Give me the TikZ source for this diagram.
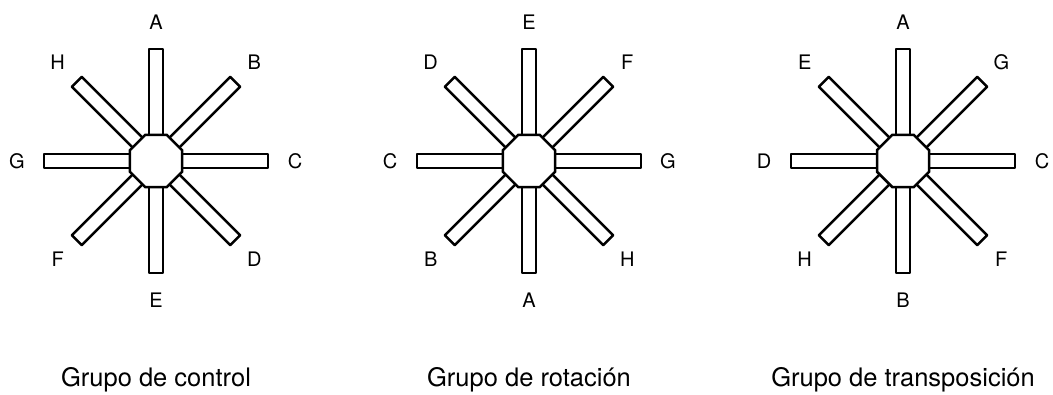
\documentclass[tikz,border=0pt]{standalone}
\usepackage{fontspec}
\setmainfont{TeX Gyre Heros}
\usetikzlibrary{shapes.geometric}

\def\RosaArmLen{112}
\def\RosaArmHalf{7}
\def\RosaArmStart{20}
\def\RosaHubSize{56.3pt}
\def\RosaLabelDist{139}
\def\RosaCenterY{-161}
\def\RosaCaptionY{-387}
\tikzset{
  rosaarm/.style={draw, line width=2.5pt, fill=white, line join=round},
  rosahub/.style={regular polygon, regular polygon sides=8,
    draw, line width=2.5pt, fill=white,
    minimum size=\RosaHubSize, inner sep=0pt},
  rosalabel/.style={font=\fontsize{20}{20}\selectfont, inner sep=0pt},
  rosacaption/.style={font=\fontsize{25.5}{25.5}\selectfont, inner sep=0pt,
    anchor=base},
}
% #1 name, #2 centre x, #3 labels clockwise from the top, #4 caption
\newcommand{\RosaStar}[4]{%
  \coordinate (#1-c) at (#2,\RosaCenterY);
  \foreach \ang in {0,45,...,315}
    \draw[rosaarm, shift={(#1-c)}, rotate=\ang]
      (\RosaArmStart,-\RosaArmHalf) rectangle (\RosaArmLen,\RosaArmHalf);
  \node[rosahub] (#1-hub) at (#1-c) {};
  \foreach \lab [count=\i from 0] in {#3}
    \node[rosalabel] (#1-\lab) at ($(#1-c)+({90-45*\i}:\RosaLabelDist)$) {\lab};
  \node[rosacaption] (#1-caption) at (#2,\RosaCaptionY) {#4};
}
\usetikzlibrary{calc}

\begin{document}
\begin{tikzpicture}[x=1pt, y=1pt]
  \useasboundingbox (0,0) rectangle (1053,-395);
  \RosaStar{control}{156}{A,B,C,D,E,F,G,H}{Grupo de control}
  \RosaStar{rotacion}{529}{E,F,G,H,A,B,C,D}{Grupo de rotación}
  \RosaStar{transpos}{903}{A,G,C,F,B,H,D,E}{Grupo de transposición}
\end{tikzpicture}
\end{document}
